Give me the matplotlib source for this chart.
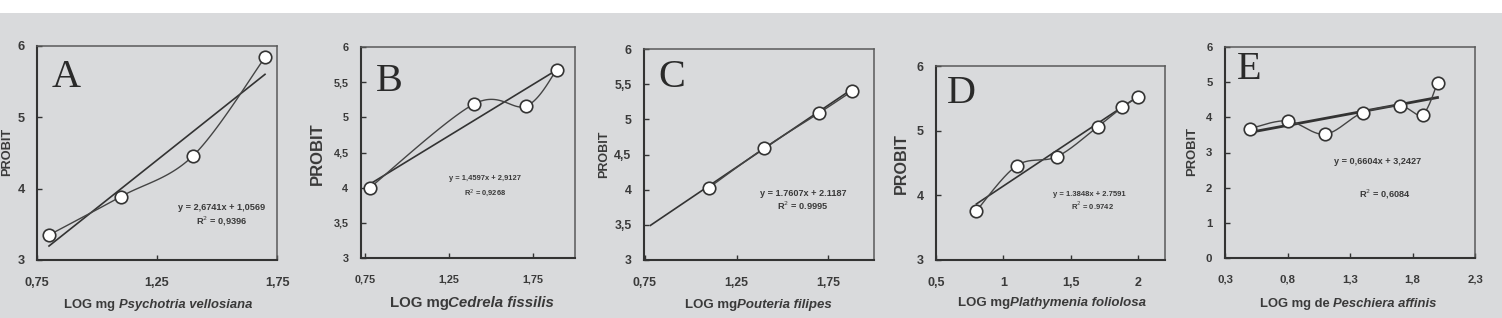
import matplotlib
matplotlib.use("Agg")
import matplotlib.pyplot as plt
import numpy as np
from matplotlib.patches import Rectangle

# ---------------- data ----------------
panel_letters = ["A", "B", "C", "D", "E"]

xA = [0.80, 1.10, 1.40, 1.70]
yA = [3.35, 3.89, 4.46, 5.84]
fitA = (2.6741, 1.0569, 0.80, 1.70)
eqA = ["y = 2,6741x + 1,0569", "R$^{2}$ = 0,9396"]

xB = [0.78, 1.40, 1.71, 1.89]
yB = [4.00, 5.19, 5.16, 5.67]
fitB = (1.4597, 2.9127, 0.78, 1.88)
eqB = ["y = 1,4597x + 2,9127", "R$^{2}$ = 0,9268"]

xC = [1.10, 1.40, 1.70, 1.88]
yC = [4.03, 4.59, 5.09, 5.40]
fitC = (1.7607, 2.1187, 0.78, 1.88)
eqC = ["y = 1.7607x + 2.1187", "R$^{2}$ = 0.9995"]

xD = [0.80, 1.10, 1.40, 1.70, 1.88, 2.00]
yD = [3.76, 4.46, 4.60, 5.06, 5.36, 5.52]
fitD = (1.3848, 2.7591, 0.80, 2.00)
eqD = ["y = 1.3848x + 2.7591", "R$^{2}$ = 0.9742"]

xE = [0.50, 0.80, 1.10, 1.40, 1.70, 1.88, 2.00]
yE = [3.68, 3.90, 3.52, 4.13, 4.32, 4.08, 4.98]
fitE = (0.6604, 3.2427, 0.50, 2.00)
eqE = ["y = 0,6604x + 3,2427", "R$^{2}$ = 0,6084"]

xlabels = [("LOG mg ", "Psychotria vellosiana"),
           ("LOG mg", "Cedrela fissilis"),
           ("LOG mg", "Pouteria filipes"),
           ("LOG mg", "Plathymenia foliolosa"),
           ("LOG mg de ", "Peschiera affinis")]

xticksA = [0.75, 1.25, 1.75]; xtlA = ["0,75", "1,25", "1,75"]
xticksB = [0.75, 1.25, 1.75]; xtlB = ["0,75", "1,25", "1,75"]
xticksC = [0.75, 1.25, 1.75]; xtlC = ["0,75", "1,25", "1,75"]
xticksD = [0.5, 1.0, 1.5, 2.0]; xtlD = ["0,5", "1", "1,5", "2"]
xticksE = [0.3, 0.8, 1.3, 1.8, 2.3]; xtlE = ["0,3", "0,8", "1,3", "1,8", "2,3"]

yticks3 = [3, 4, 5, 6]; ytl3 = ["3", "4", "5", "6"]
yticks35 = [3, 3.5, 4, 4.5, 5, 5.5, 6]; ytl35 = ["3", "3,5", "4", "4,5", "5", "5,5", "6"]
yticksE = [0, 1, 2, 3, 4, 5, 6]; ytlE = ["0", "1", "2", "3", "4", "5", "6"]

# ---------------- layout (pixels) ----------------
W, H = 1502, 318
BG = "#d9dadc"
DARK = "#3a3a3a"

panels = [
    dict(x=xA, y=yA, fit=fitA, eq=eqA, box=(37, 46, 277, 260), xlim=(0.75, 1.75), ylim=(3, 6),
         xt=xticksA, xtl=xtlA, yt=yticks3, ytl=ytl3, tfs=9.2, eqpos=[(222, 208), (222, 221)], eqfs=6.6,
         letter=(66, 77), lfs=29, plab=(7, 152, 9.2), xl=(158, 305, 9.4), lw_fit=1.2),
    dict(x=xB, y=yB, fit=fitB, eq=eqB, box=(361, 47, 575, 258), xlim=(0.727, 2.0), ylim=(3, 6),
         xt=xticksB, xtl=xtlB, yt=yticks35, ytl=ytl35, tfs=7.8, eqpos=[(485, 179), (485, 193)], eqfs=5.4,
         letter=(389, 82), lfs=29, plab=(317, 154, 12.0), xl=(472, 303, 10.8), lw_fit=1.2),
    dict(x=xC, y=yC, fit=fitC, eq=eqC, box=(644, 49, 874, 260), xlim=(0.745, 2.0), ylim=(3, 6),
         xt=xticksC, xtl=xtlC, yt=yticks35, ytl=ytl35, tfs=8.8, eqpos=[(803, 194), (803, 206)], eqfs=6.6,
         letter=(672, 78), lfs=29, plab=(604, 154, 9.0), xl=(758, 305, 9.5), lw_fit=1.2),
    dict(x=xD, y=yD, fit=fitD, eq=eqD, box=(936, 66, 1165, 260), xlim=(0.5, 2.2), ylim=(3, 6),
         xt=xticksD, xtl=xtlD, yt=yticks3, ytl=ytl3, tfs=9.0, eqpos=[(1089, 194), (1092, 206)], eqfs=5.5,
         letter=(961, 93), lfs=29, plab=(901, 164, 11.6), xl=(1052, 303, 9.5), lw_fit=1.2),
    dict(x=xE, y=yE, fit=fitE, eq=eqE, box=(1225, 47, 1475, 258), xlim=(0.3, 2.3), ylim=(0, 6),
         xt=xticksE, xtl=xtlE, yt=yticksE, ytl=ytlE, tfs=8.2, eqpos=[(1378, 162), (1385, 194)], eqfs=6.6,
         letter=(1249, 70), lfs=29, plab=(1192, 152, 9.4), xl=(1348, 304, 9.4), lw_fit=2.0),
]


def excel_smooth(xs, ys, n=40):
    pts = np.column_stack([xs, ys]).astype(float)
    out = []
    m = len(pts)
    for i in range(m - 1):
        p0 = pts[i - 1] if i > 0 else pts[i]
        p1 = pts[i]
        p2 = pts[i + 1]
        p3 = pts[i + 2] if i + 2 < m else pts[i + 1]
        c1 = p1 + (p2 - p0) / 6.0
        c2 = p2 - (p3 - p1) / 6.0
        t = np.linspace(0, 1, n)[:, None]
        seg = ((1 - t) ** 3) * p1 + 3 * ((1 - t) ** 2) * t * c1 + 3 * (1 - t) * t ** 2 * c2 + t ** 3 * p2
        out.append(seg if i == 0 else seg[1:])
    out = np.vstack(out)
    return out[:, 0], out[:, 1]


fig = plt.figure(figsize=(W / 100, H / 100), dpi=100, facecolor=BG)
fig.patches.append(Rectangle((0, 1 - 13 / H), 1, 13 / H, transform=fig.transFigure,
                             facecolor="white", edgecolor="none", zorder=0))

renderer = fig.canvas.get_renderer()


def fx(px):
    return px / W


def fy(py):
    return 1 - py / H


for i, p in enumerate(panels):
    l, t, r, b = p["box"]
    ax = fig.add_axes([fx(l), fy(b), (r - l) / W, (b - t) / H])
    ax.set_facecolor("none")
    ax.set_xlim(*p["xlim"])
    ax.set_ylim(*p["ylim"])
    for s in ["left", "bottom"]:
        ax.spines[s].set_color("#333333")
        ax.spines[s].set_linewidth(1.5)
    for s in ["top", "right"]:
        ax.spines[s].set_color("#5a5a5a")
        ax.spines[s].set_linewidth(1.1)
    ax.set_xticks(p["xt"])
    ax.set_xticklabels(p["xtl"])
    ax.set_yticks(p["yt"])
    ax.set_yticklabels(p["ytl"])
    ax.tick_params(direction="in", length=3.5, width=1.0, color="#333333",
                   labelsize=p["tfs"], labelcolor=DARK)
    ax.tick_params(axis="x", pad=12)
    ax.tick_params(axis="y", pad=9)
    for lab in ax.get_xticklabels() + ax.get_yticklabels():
        lab.set_fontfamily("Liberation Sans")
        lab.set_fontweight("bold")

    # regression line
    slope, icpt, x0, x1 = p["fit"]
    fxs = np.array([x0, x1])
    ax.plot(fxs, slope * fxs + icpt, color="#333333", lw=p["lw_fit"], zorder=2, clip_on=False)
    # smooth connecting line
    sx, sy = excel_smooth(p["x"], p["y"])
    ax.plot(sx, sy, color="#444444", lw=1.0, zorder=3, clip_on=False)
    ax.plot(p["x"], p["y"], linestyle="none", marker="o", markersize=9,
            markerfacecolor="white", markeredgecolor="#333333", markeredgewidth=1.2,
            zorder=4, clip_on=False)

    # equations
    for (ex, ey), txt in zip(p["eqpos"], p["eq"]):
        fig.text(fx(ex), fy(ey), txt, ha="center", va="center", fontsize=p["eqfs"],
                 fontweight="bold", color=DARK, family="Liberation Sans")

    # panel letter
    lx, ly = p["letter"]
    fig.text(fx(lx), fy(ly), panel_letters[i], ha="center", va="center", fontsize=p["lfs"],
             color="#2a2a2a", family="Liberation Serif")

    # y label
    px_, py_, pfs = p["plab"]
    fig.text(fx(px_), fy(py_), "PROBIT", rotation=90, ha="center", va="center",
             fontsize=pfs, fontweight="bold", color=DARK, family="Liberation Sans")

    # x label (normal + italic parts)
    cx, cy, xfs = p["xl"]
    part1, part2 = xlabels[i]
    t1 = fig.text(0, fy(cy), part1, ha="left", va="center", fontsize=xfs, fontweight="bold",
                  color=DARK, family="Liberation Sans")
    t2 = fig.text(0, fy(cy), part2, ha="left", va="center", fontsize=xfs, fontweight="bold",
                  style="italic", color=DARK, family="Liberation Sans")
    w1 = t1.get_window_extent(renderer).width
    w2 = t2.get_window_extent(renderer).width
    start = cx - (w1 + w2) / 2
    t1.set_x(fx(start))
    t2.set_x(fx(start + w1))

fig.savefig("out.png", dpi=100, facecolor=BG)
